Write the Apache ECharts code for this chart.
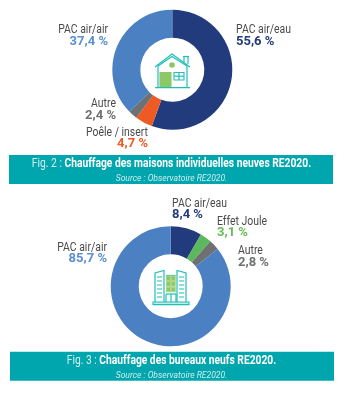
<!DOCTYPE html>
<html>
<head>
<meta charset="utf-8">
<script src="https://cdn.jsdelivr.net/npm/echarts@6/dist/echarts.min.js"></script>
<style>
    html, body { margin: 0; padding: 0; background: #fff; }
    #chart { width: 351px; height: 400px; }
</style>
</head>
<body>
<div id="chart"></div>
<script>
const houseNames = ['PAC air/eau', 'Poêle / insert', 'Autre', 'PAC air/air'];
const houseValues = [55.6, 4.7, 2.4, 37.4];
const houseColors = ['#223b7d', '#ee5a24', '#6e7072', '#4b81c3'];

const officeNames = ['PAC air/eau', 'Effet Joule', 'Autre', 'PAC air/air'];
const officeValues = [8.4, 3.1, 2.8, 85.7];
const officeColors = ['#223b7d', '#5cb85c', '#6e7072', '#4b81c3'];

const FONT = 'Roboto';
const TEAL = '#00a6ae';
const ICON = '#1fbfb8';
const GREEN = '#8cc866';

function formatValue(value) {
    return value.toFixed(1).replace('.', ',') + ' %';
}

function donut(names, values, colors, center) {
    return {
        type: 'pie',
        center: center,
        radius: [32, 60],
        startAngle: 90,
        silent: true,
        animation: false,
        label: { show: false },
        labelLine: { show: false },
        data: values.map((value, i) => ({
            name: names[i],
            value: value,
            itemStyle: { color: colors[i] }
        }))
    };
}

// name + value pair next to a slice
function sliceLabel(name, value, color, x, y, align) {
    const text = (content, top, size, weight, fill, scale) => ({
        type: 'text',
        x: x,
        y: top,
        scaleX: scale,
        silent: true,
        style: {
            text: content,
            font: `${weight} ${size}px ${FONT}`,
            fill: fill,
            align: align,
            verticalAlign: 'middle'
        }
    });
    return [
        text(name, y, 12, 400, '#4a4a4a', 0.87),
        text(formatValue(value), y + 11.7, 13, 700, color, 1)
    ];
}

function banner(top, x, fig, title) {
    return [
        {
            type: 'rect',
            silent: true,
            shape: { x: x, y: top, width: 324, height: 29 },
            style: { fill: TEAL }
        },
        {
            type: 'text',
            x: 171.5,
            y: top + 9,
            scaleX: 0.79,
            silent: true,
            style: {
                text: `{a|${fig} : }{b|${title}}`,
                align: 'center',
                verticalAlign: 'middle',
                fill: '#fff',
                rich: {
                    a: { font: `400 13px ${FONT}`, fill: '#d5eef0' },
                    b: { font: `700 13px ${FONT}`, fill: '#fff' }
                }
            }
        },
        {
            type: 'text',
            x: 171.5,
            y: top + 23.5,
            scaleX: 0.9,
            silent: true,
            style: {
                text: 'Source : Observatoire RE2020.',
                font: `italic 400 9.5px ${FONT}`,
                fill: '#cdeced',
                align: 'center',
                verticalAlign: 'middle'
            }
        }
    ];
}

function line(points, color, width) {
    return {
        type: 'polyline',
        silent: true,
        shape: { points: points },
        style: { stroke: color || ICON, lineWidth: width || 1.2, fill: null }
    };
}

function box(x, y, w, h, fill, stroke) {
    return {
        type: 'rect',
        silent: true,
        shape: { x: x, y: y, width: w, height: h },
        style: { fill: fill || 'transparent', stroke: stroke || ICON, lineWidth: 1.1 }
    };
}

function houseIcon() {
    return [
        box(160, 72.5, 11, 14.5, GREEN, GREEN),
        line([[155, 67], [172, 54], [190, 67]]),
        line([[158, 66], [172, 56.5], [187, 66]]),
        line([[158, 66], [158, 87.5]]),
        line([[187, 66], [187, 87.5]]),
        line([[155, 87.7], [190, 87.7]]),
        line([[184, 62], [184, 56.5]]),
        line([[188, 64], [188, 56.5]]),
        line([[183, 56.5], [189, 56.5]]),
        box(174, 72.5, 10, 7.5),
        line([[179, 72.5], [179, 80]]),
        line([[174, 76.2], [184, 76.2]]),
        { type: 'circle', silent: true, shape: { cx: 172, cy: 65, r: 2.8 }, style: { fill: GREEN } }
    ];
}

function officeIcon() {
    const items = [
        line([[155, 302], [155, 273], [164, 270.5], [164, 302]]),
        line([[177, 302], [177, 270.5], [186, 273], [186, 302]]),
        line([[166, 275.5], [175.5, 275.5]]),
        box(153, 302, 36, 2.6, '#bfeceb'),
        line([[166, 294], [176, 294]]),
        line([[166, 294], [166, 302]]),
        line([[171, 294], [171, 302]]),
        line([[176, 294], [176, 302]])
    ];
    // windows
    [0, 1, 2].forEach((row) => {
        [0, 1].forEach((col) => {
            items.push(box(166.5 + col * 4.7, 276 + row * 5.6, 4, 4.6, GREEN, '#a9d68a'));
        });
    });
    [0, 1, 2, 3, 4, 5].forEach((row) => {
        const y = 277 + row * 4;
        items.push(line([[157, y], [162, y]], '#6fd6d0', 1.6));
        items.push(line([[179, y], [184, y]], '#6fd6d0', 1.6));
    });
    return items;
}

const labels = [
    ...sliceLabel(houseNames[3], houseValues[3], '#5a8fd0', 108, 30, 'right'),
    ...sliceLabel(houseNames[0], houseValues[0], houseColors[0], 236, 30, 'left'),
    ...sliceLabel(houseNames[2], houseValues[2], houseColors[2], 116, 104, 'right'),
    ...sliceLabel(houseNames[1], houseValues[1], houseColors[1], 148, 132.5, 'right'),
    ...sliceLabel(officeNames[3], officeValues[3], '#5a8fd0', 107, 247.5, 'right'),
    ...sliceLabel(officeNames[0], officeValues[0], officeColors[0], 172, 203.5, 'left'),
    ...sliceLabel(officeNames[1], officeValues[1], '#66bb55', 217, 221.5, 'left'),
    ...sliceLabel(officeNames[2], officeValues[2], officeColors[2], 238, 251, 'left')
];

const chart = echarts.init(document.getElementById('chart'), null, { renderer: 'canvas' });
chart.setOption({
    animation: false,
    backgroundColor: '#fff',
    series: [
        donut(houseNames, houseValues, houseColors, [172.3, 69.7]),
        donut(officeNames, officeValues, officeColors, [170.7, 286.3])
    ],
    graphic: {
        elements: [
            ...labels,
            ...banner(155, 9, 'Fig. 2', 'Chauffage des maisons individuelles neuves RE2020.'),
            ...banner(351.7, 10, 'Fig. 3', 'Chauffage des bureaux neufs RE2020.'),
            ...houseIcon(),
            ...officeIcon()
        ]
    }
});

window.addEventListener('resize', () => {
    chart.resize();
});
</script>
</body>
</html>
